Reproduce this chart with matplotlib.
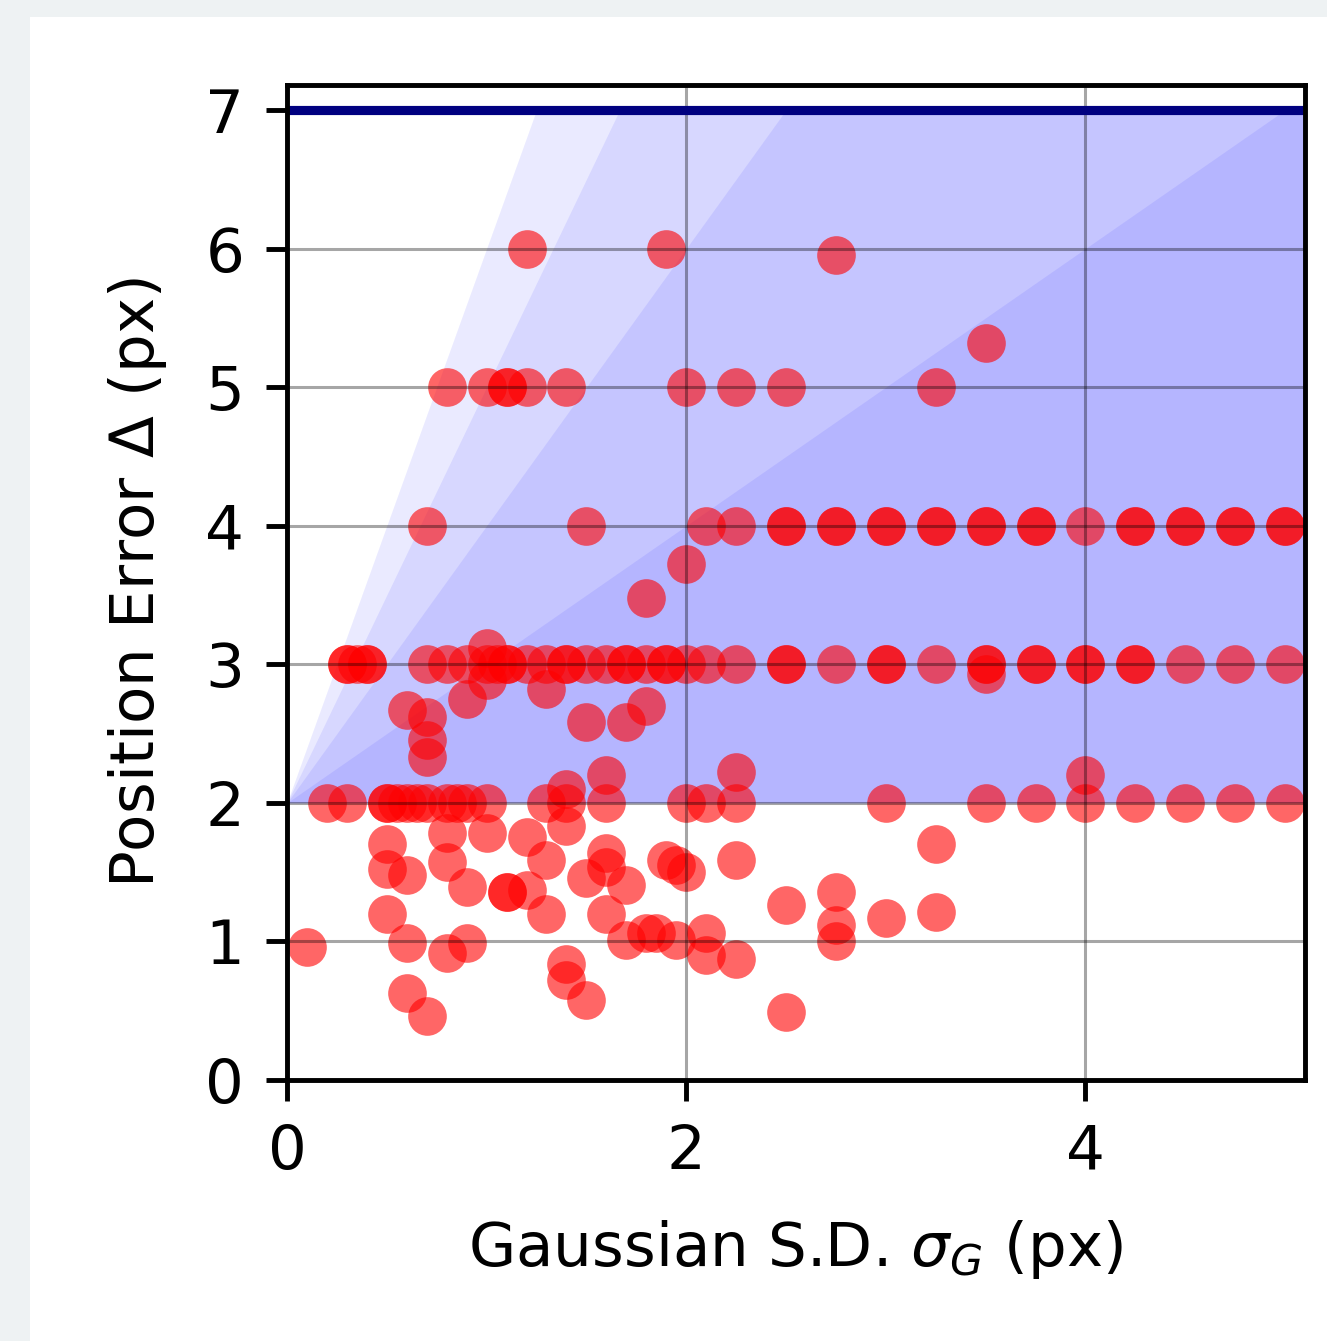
import numpy as np
import matplotlib
matplotlib.use("Agg")
import matplotlib.pyplot as plt
from matplotlib.patches import Rectangle

# Measured localisation error against Gaussian blur width
sigma_g = [
    # Delta = 6 and above
    1.2, 1.9, 2.75, 3.5,
    # Delta = 5
    0.8, 1.0, 1.1, 1.1, 1.2, 1.4, 2.0, 2.25, 2.5, 3.25,
    # Delta = 4
    0.7, 1.5, 2.1, 2.25, 2.5, 2.5, 2.75, 2.75, 3.0, 3.0, 3.25, 3.25, 3.5, 3.5,
    3.75, 3.75, 4.0, 4.25, 4.25, 4.5, 4.5, 4.75, 4.75, 5.0, 5.0,
    2.0, 1.8,
    # Delta = 3
    0.3, 0.3, 0.35, 0.4, 0.4, 0.7, 0.8, 0.9, 1.0, 1.0, 1.05, 1.1, 1.1, 1.2, 1.3,
    1.4, 1.4, 1.5, 1.6, 1.7, 1.7, 1.8, 1.9, 1.9, 2.0,
    2.1, 2.25, 2.5, 2.5, 2.75, 3.0, 3.0, 3.25, 3.5, 3.5, 3.5, 3.75, 3.75, 4.0, 4.0,
    4.25, 4.25, 4.5, 4.75, 5.0,
    # between 2 and 3
    1.0, 0.9, 1.3, 1.5, 1.7, 1.8, 0.6, 0.7, 0.7, 0.7,
    1.4, 1.6, 2.25, 4.0,
    # Delta = 2
    0.2, 0.3, 0.5, 0.5, 0.55, 0.6, 0.65, 0.7, 0.8, 0.85, 0.9, 1.0,
    1.3, 1.4, 1.6, 2.0, 2.1, 2.25,
    3.0, 3.5, 3.75, 4.0, 4.25, 4.5, 4.75, 5.0,
    # below 2
    0.5, 0.5, 0.6, 0.5, 0.6, 0.1, 0.8, 0.8, 0.9, 1.1, 1.1, 1.0, 0.8, 0.9, 0.6, 0.7,
    1.2, 1.3, 1.4, 1.6, 1.5, 1.6, 1.7, 1.2, 1.3, 1.6,
    1.9, 1.95, 2.0, 2.25, 1.7, 1.8, 1.85, 1.95, 2.1, 2.1, 2.25,
    1.4, 1.4, 1.5,
    2.5, 2.75, 2.75, 2.75, 3.0, 3.25, 3.25, 2.5,
]
delta = [
    6.0, 6.0, 5.95, 5.32,
    5.0, 5.0, 5.0, 5.0, 5.0, 5.0, 5.0, 5.0, 5.0, 5.0,
    4.0, 4.0, 4.0, 4.0, 4.0, 4.0, 4.0, 4.0, 4.0, 4.0, 4.0, 4.0, 4.0, 4.0,
    4.0, 4.0, 4.0, 4.0, 4.0, 4.0, 4.0, 4.0, 4.0, 4.0, 4.0,
    3.72, 3.48,
    3.0, 3.0, 3.0, 3.0, 3.0, 3.0, 3.0, 3.0, 3.0, 3.12, 3.0, 3.0, 3.0, 3.0, 3.0,
    3.0, 3.0, 3.0, 3.0, 3.0, 3.0, 3.0, 3.0, 3.0, 3.0,
    3.0, 3.0, 3.0, 3.0, 3.0, 3.0, 3.0, 3.0, 3.0, 2.93, 3.0, 3.0, 3.0, 3.0, 3.0,
    3.0, 3.0, 3.0, 3.0, 3.0,
    2.89, 2.75, 2.82, 2.58, 2.58, 2.70, 2.67, 2.62, 2.45, 2.33,
    2.1, 2.2, 2.22, 2.2,
    2.0, 2.0, 2.0, 2.0, 2.0, 2.0, 2.0, 2.0, 2.0, 2.0, 2.0, 2.0,
    2.0, 2.0, 2.0, 2.0, 2.0, 2.0,
    2.0, 2.0, 2.0, 2.0, 2.0, 2.0, 2.0, 2.0,
    1.7, 1.52, 1.48, 1.2, 0.99, 0.96, 1.78, 1.57, 1.39, 1.36, 1.36, 1.78, 0.92, 0.99, 0.63, 0.46,
    1.75, 1.59, 1.83, 1.64, 1.46, 1.54, 1.41, 1.37, 1.2, 1.2,
    1.59, 1.55, 1.5, 1.59, 1.01, 1.06, 1.06, 1.01, 1.06, 0.9, 0.87,
    0.84, 0.72, 0.58,
    1.26, 1.36, 1.12, 1.0, 1.17, 1.21, 1.70, 0.49,
]

# Acceptance wedges fanning out from (0, 2), one per slope
wedge_slopes = [4, 3, 2, 1]
base_error = 2.0
error_cap = 7.0

x_ticks = [0, 2, 4]
y_ticks = [0, 1, 2, 3, 4, 5, 6, 7]

plt.rcParams["font.family"] = "DejaVu Sans"
plt.rcParams["font.size"] = 10

fig = plt.figure(figsize=(1327 / 440, 1341 / 440), dpi=440)
fig.patch.set_facecolor("#eef2f3")
fig.patches.append(Rectangle((30 / 1327, 0), 1.0, 1 - 17 / 1341,
                             transform=fig.transFigure, facecolor="white",
                             edgecolor="none", zorder=-10))

ax = fig.add_axes([287 / 1327, 1 - 1080 / 1341, (1305 - 287) / 1327, (1080 - 85) / 1341])

xs = np.linspace(0, 5.1, 400)
for k in wedge_slopes:
    ax.fill_between(xs, base_error, np.minimum(base_error + k * xs, error_cap),
                    color="#1010ff", alpha=0.085, linewidth=0)

ax.axhline(error_cap, color="navy", linewidth=1.5)
ax.scatter(sigma_g, delta, s=40, color="red", alpha=0.6, linewidths=0)

ax.set_xlim(0, 5.1)
ax.set_ylim(0, 7.18)
ax.set_xticks(x_ticks)
ax.set_yticks(y_ticks)
ax.grid(True, color="black", alpha=0.35, linewidth=0.5)
ax.set_xlabel(r"Gaussian S.D. $\sigma_G$ (px)", labelpad=6)
ax.set_ylabel(r"Position Error $\Delta$ (px)", labelpad=6)

fig.savefig("out.png", dpi=440, facecolor=fig.get_facecolor())
